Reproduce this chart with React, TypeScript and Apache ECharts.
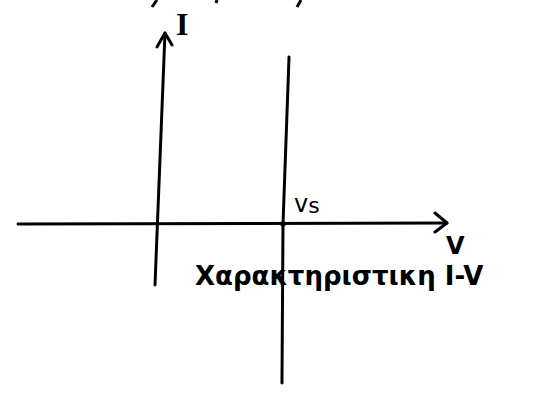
import React, { useEffect, useRef } from "react";
import * as echarts from "echarts";

// Ideal voltage source: current may take any value while the voltage stays at vS.
// Plane: V along x, I along y (arbitrary units).
const V_RANGE = [-2.421875, 5.90625];
const I_RANGE = [-2.816667, 3.733333];

const vsValue = 2;

// Hand-drawn axes
const vAxisStroke = [[-2.14, 0], [4.5625, 0.017]];
const iAxisStroke = [[0, -1.017], [0.156, 3.183]];
const iArrowHead = [[0.031, 2.95], [0.156, 3.183], [0.266, 2.983]];
const vArrowHead = [[4.375, 0.183], [4.5625, 0.017], [4.375, -0.133]];

// Characteristic: vertical line at V = vS
const characteristic = [[2.094, 2.783], [vsValue, 0], [1.984, -2.65]];
const operatingPoint = [[vsValue, 0]];

const axisLabels = { current: "I", voltage: "V", source: "v", sourceSub: "s" };
const caption = "Χαρακτηριστικη I-V";

const strokeSeries = (data: number[][], width = 3) => ({
  type: "line",
  data,
  symbol: "none",
  silent: true,
  lineStyle: { color: "#000", width, cap: "round", join: "round" },
});

export default function App() {
  const ref = useRef<HTMLDivElement>(null);

  useEffect(() => {
    document.body.style.margin = "0";
    const chart = echarts.init(ref.current!, null, { renderer: "svg" });
    chart.setOption({
      animation: false,
      backgroundColor: "#fff",
      grid: { left: 0, right: 0, top: 0, bottom: 0 },
      xAxis: { type: "value", min: V_RANGE[0], max: V_RANGE[1], show: false },
      yAxis: { type: "value", min: I_RANGE[0], max: I_RANGE[1], show: false },
      series: [
        strokeSeries(vAxisStroke),
        strokeSeries(iAxisStroke),
        strokeSeries(iArrowHead),
        strokeSeries(vArrowHead),
        strokeSeries(characteristic),
        {
          type: "scatter",
          data: operatingPoint,
          symbol: "circle",
          symbolSize: 6,
          silent: true,
          itemStyle: { color: "#000" },
        },
      ],
      graphic: [
        {
          type: "text",
          x: 176,
          y: 8,
          style: { text: axisLabels.current, font: "bold 32px 'Liberation Serif'", fill: "#000" },
        },
        {
          type: "text",
          x: 446,
          y: 234,
          style: { text: axisLabels.voltage, font: "bold 24px 'DejaVu Sans'", fill: "#000" },
        },
        {
          type: "text",
          x: 294,
          y: 192,
          style: {
            text: "{v|" + axisLabels.source + "}{s|" + axisLabels.sourceSub + "}",
            rich: {
              v: { font: "24px 'DejaVu Sans'", fill: "#000" },
              s: { font: "22px 'DejaVu Sans'", fill: "#000", padding: [2, 0, 0, 0] },
            },
          },
        },
        {
          type: "text",
          x: 195,
          y: 263,
          style: { text: caption, font: "bold 26px 'DejaVu Sans'", fill: "#000" },
        },
        // stroke fragments cut off at the top edge
        { type: "line", shape: { x1: 152, y1: 7, x2: 157, y2: 0 }, style: { stroke: "#000", lineWidth: 3 } },
        { type: "line", shape: { x1: 215, y1: 1, x2: 218, y2: 2 }, style: { stroke: "#000", lineWidth: 3 } },
        { type: "line", shape: { x1: 297, y1: 7, x2: 301, y2: 0 }, style: { stroke: "#000", lineWidth: 3 } },
      ],
    });
    return () => chart.dispose();
  }, []);

  return <div ref={ref} style={{ width: 533, height: 393 }} />;
}
